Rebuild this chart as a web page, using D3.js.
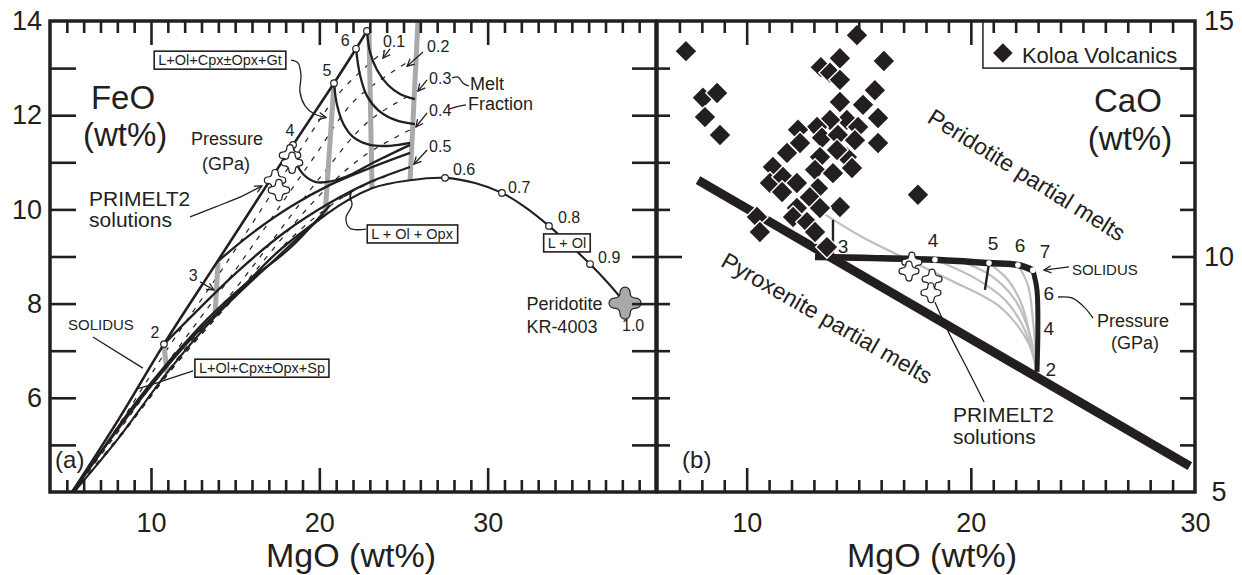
<!DOCTYPE html>
<meta charset="utf-8">
<style>
body{ margin:0; background:#fff; }
svg text{ font-family:"Liberation Sans", Arial, Helvetica, sans-serif; fill:#231f20; }
.frame{ fill:none; stroke:#231f20; stroke-width:3.5; }
.tk line{ stroke:#231f20; stroke-width:2.6; }
.tk .domain{ display:none; }
.lbl text{ fill:#231f20; font-size:27px; font-family:"Liberation Sans", Arial, sans-serif; }
.lbl .domain, .lbl line{ display:none; }
.curve{ fill:none; stroke:#231f20; }
.thin{ fill:none; stroke:#231f20; stroke-width:1.3; }
.dash{ fill:none; stroke:#231f20; stroke-width:1.2; stroke-dasharray:5,7; }
.band{ fill:none; stroke:#a7a9ac; stroke-width:5; }
.grey{ fill:none; stroke:#bcbec0; stroke-width:2.2; }
</style>
<svg width="1242" height="575"></svg>
<script src="https://cdn.jsdelivr.net/npm/d3@7"></script>
<script>

// ---- panel (a): FeO vs MgO ----
var xTickLabelsA = [10, 20, 30];
var yTickLabelsA = [6, 8, 10, 12, 14];

var solidusA = [[5.31,4.0],[8.16,5.59],[10.77,7.14],[13.92,8.88],[18.44,11.37],[20.87,12.68],[22.18,13.41],[22.83,13.79]];

// melting paths leaving the solidus at each pressure
var pathsA = [
  [[22.83,13.79],[23.01,13.34],[23.43,12.96],[24.08,12.64],[24.79,12.45],[25.68,12.34]],
  [[22.18,13.41],[22.42,12.85],[22.83,12.41],[23.49,12.11],[24.50,11.90],[25.68,11.81]],
  [[20.87,12.68],[21.05,12.22],[21.41,11.83],[22.0,11.54],[23.01,11.37],[24.20,11.35],[25.39,11.41]],
  [[18.44,11.37],[18.61,11.01],[19.09,10.73],[19.80,10.58],[20.75,10.60],[21.82,10.73],[23.31,11.01],[25.39,11.37]],
  [[13.92,8.88],[15.88,9.46],[18.26,10.05],[20.63,10.52],[23.01,10.88],[25.39,11.20]],
  [[10.77,7.14],[12.91,7.91],[15.11,8.67],[17.96,9.52],[20.63,10.14],[23.01,10.58],[25.39,10.90]],
  [[5.31,4.0],[7.09,4.89],[8.99,5.85],[11.13,6.80],[13.39,7.69],[15.88,8.50],[18.26,9.18],[20.63,10.09]],
  [[5.37,4.0],[7.56,5.10],[9.82,6.17],[12.32,7.23],[14.99,8.18],[17.54,9.10],[20.34,9.88]]
];

var arcA = [[5.43,4.0],[7.98,5.10],[10.95,6.53],[13.80,7.72],[17.07,8.84],[20.34,9.88],[23.13,10.45],[25.39,10.62],
  [27.47,10.67],[29.25,10.56],[30.85,10.35],[32.22,10.05],[33.64,9.65],[34.89,9.24],[36.08,8.84],[37.27,8.39],[38.16,8.01]];

// melt fraction contours 0.1 - 0.5 (dashed)
var contoursA = [
  [[5.37,4.0],[8.28,5.53],[11.13,7.12],[14.40,8.82],[18.85,11.26],[21.23,12.49],[23.90,13.38]],
  [[5.37,4.0],[8.34,5.42],[11.43,6.97],[14.81,8.61],[19.57,11.05],[22.12,12.32],[25.27,13.13]],
  [[5.37,4.0],[8.40,5.32],[11.60,6.85],[15.29,8.44],[20.16,10.73],[22.89,11.86],[25.62,12.47]],
  [[5.43,4.0],[8.28,5.23],[11.49,6.72],[15.05,8.20],[20.04,10.31],[22.71,11.15],[25.62,11.73]],
  [[5.43,4.0],[8.16,5.17],[11.25,6.61],[14.57,7.97],[18.85,9.56],[21.82,10.35],[25.51,10.92]]
];

// isobars (grey bands)
var isobarsA = [
  [[25.86,14.0],[25.39,10.62]],
  [[22.95,13.79],[23.13,10.45]],
  [[20.87,12.68],[20.34,9.88]],
  [[13.98,8.88],[13.80,7.72]],
  [[10.77,7.12],[10.95,6.53]]
];

var pressA = ["2", "4", "5", "6", "7"];
var pressMgOA = [10.77, 18.44, 20.87, 22.18, 22.83];
var pressFeOA = [7.14, 11.37, 12.68, 13.41, 13.79];

var fracA = ["0.6", "0.7", "0.8", "0.9"];
var fracMgOA = [27.47, 30.85, 33.64, 36.08];
var fracFeOA = [10.67, 10.35, 9.65, 8.84];

var primeltMgOA = [18.26, 18.38, 17.37, 17.60];
var primeltFeOA = [11.15, 10.99, 10.62, 10.41];

var peridotite = [38.16, 8.01];

// ---- panel (b): CaO vs MgO ----
var xTickLabelsB = [10, 20, 30];
var yTickLabelsB = [5, 10, 15];

var koloaMgO = [7.29,8.05,8.68,8.14,8.81,14.92,14.16,13.31,13.72,14.16,16.12,14.16,15.72,15.19,15.86,14.47,13.72,13.14,12.29,14.97,
  13.36,14.07,14.83,15.86,12.38,11.80,13.27,14.47,14.03,11.17,13.05,13.85,14.70,11.04,11.62,12.24,11.58,13.18,12.82,14.16,
  12.24,13.27,12.07,12.69,10.46,10.59,13.05,13.58,17.64];
var koloaCaO = [14.36,13.37,13.47,12.96,12.58,14.70,14.21,14.02,13.90,13.75,14.15,13.28,13.53,13.22,12.94,12.90,12.90,12.75,12.69,12.75,
  12.52,12.58,12.47,12.41,12.41,12.20,12.11,12.11,12.26,11.90,11.84,11.77,11.88,11.56,11.69,11.56,11.37,11.45,11.26,11.05,
  11.03,11.03,10.84,10.73,10.84,10.52,10.52,10.20,11.31];

var pyroxeniteB = [[7.83,11.62],[29.77,5.55]];
var solidusB = [[13.05,9.99],[18.40,9.93],[20.81,9.86],[22.10,9.82],[22.77,9.71]];
var solidusDepthB = [[22.77,9.71],[22.95,9.29],[22.99,8.44],[22.95,7.55]];
var pressB = ["4", "5", "6", "7"];
var greyB = [
  [[13.40,10.92],[15.05,10.44],[16.84,10.01],[19.07,9.50],[21.30,8.93],[22.50,8.23],[22.95,7.63]],
  [[18.40,9.93],[20.18,9.54],[21.52,9.08],[22.41,8.44],[22.90,7.63]],
  [[19.51,9.90],[20.85,9.61],[21.97,9.08],[22.64,8.33],[22.92,7.63]],
  [[20.81,9.86],[21.66,9.50],[22.28,8.97],[22.68,8.23],[22.93,7.63]],
  [[22.10,9.82],[22.55,9.39],[22.77,8.65],[22.94,7.63]]
];
var ticksB = [[[13.85,10.78],[13.85,9.99]], [[20.81,9.86],[20.63,9.29]]];
var primeltMgOB = [17.37, 17.24, 18.27, 18.22];
var primeltCaOB = [9.88, 9.69, 9.52, 9.23];

var xa = d3.scaleLinear().domain([4, 40]).range([50, 656]),
    ya = d3.scaleLinear().domain([4, 14]).range([492, 21]),
    xb = d3.scaleLinear().domain([6, 30]).range([657, 1195]),
    yb = d3.scaleLinear().domain([5, 15]).range([492, 21]);

var svg = d3.select("svg");
var ink = "#231f20";

function liner(sx, sy) {
  return d3.line().x(function(d) { return sx(d[0]); }).y(function(d) { return sy(d[1]); })
    .curve(d3.curveCatmullRom.alpha(0.5));
}
var la = liner(xa, ya), lb = liner(xb, yb);

function quat(d, a) {
  return "M" + (-a) + "," + (-d) + "A" + a + "," + a + " 0 0 1 " + a + "," + (-d) +
    "Q" + a + "," + (-a) + " " + d + "," + (-a) + "A" + a + "," + a + " 0 0 1 " + d + "," + a +
    "Q" + a + "," + a + " " + a + "," + d + "A" + a + "," + a + " 0 0 1 " + (-a) + "," + d +
    "Q" + (-a) + "," + a + " " + (-d) + "," + a + "A" + a + "," + a + " 0 0 1 " + (-d) + "," + (-a) +
    "Q" + (-a) + "," + (-a) + " " + (-a) + "," + (-d) + "Z";
}

function txt(g, x, y, s, size, anchor) {
  return g.append("text").attr("x", x).attr("y", y).attr("font-size", size)
    .attr("text-anchor", anchor || "start").text(s);
}

function boxLabel(g, x, y, s) {
  var t = txt(g, x, y, s, 14.5, "middle").attr("dy", "0.35em");
  var b = t.node().getBBox();
  g.insert("rect", function() { return t.node(); })
    .attr("x", b.x - 4).attr("y", b.y - 1).attr("width", b.width + 8).attr("height", b.height + 2)
    .attr("fill", "#fff").attr("stroke", ink).attr("stroke-width", 1.6);
}

function arrow(g, pts, sl) {
  return g.append("path").attr("class", "thin").attr("d", sl(pts)).attr("marker-end", "url(#arr)");
}

svg.append("defs").append("marker").attr("id", "arr").attr("viewBox", "0 -5 10 10")
    .attr("refX", 9).attr("refY", 0).attr("markerWidth", 9).attr("markerHeight", 9)
    .attr("markerUnits", "userSpaceOnUse").attr("orient", "auto")
  .append("path").attr("d", "M1,-4L9,0L1,4").attr("fill", "none").attr("stroke", ink).attr("stroke-width", 1.4);

// ================= panel (a) =================
var ga = svg.append("g");

ga.selectAll(".dash").data(contoursA).enter().append("path").attr("class", "dash").attr("d", la);
ga.selectAll(".band").data(isobarsA).enter().append("path").attr("class", "band").attr("d", la);
ga.selectAll(".mp").data(pathsA).enter().append("path").attr("class", "curve mp").style("stroke-width", 2.3).attr("d", la);
ga.append("path").attr("class", "curve").style("stroke-width", 2.1).attr("d", la(arcA));
ga.append("path").attr("class", "curve").style("stroke-width", 2.6).attr("d", la(solidusA));

ga.selectAll(".pc").data(pressA).enter().append("circle").attr("class", "pc")
    .attr("cx", function(d, i) { return xa(pressMgOA[i]); })
    .attr("cy", function(d, i) { return ya(pressFeOA[i]); })
    .attr("r", 3.3).attr("fill", "#fff").attr("stroke", ink).attr("stroke-width", 1.2);

ga.selectAll(".fc").data(fracA).enter().append("circle").attr("class", "fc")
    .attr("cx", function(d, i) { return xa(fracMgOA[i]); })
    .attr("cy", function(d, i) { return ya(fracFeOA[i]); })
    .attr("r", 3.3).attr("fill", "#fff").attr("stroke", ink).attr("stroke-width", 1.2);

ga.selectAll(".pq").data(primeltMgOA).enter().append("path").attr("class", "pq")
    .attr("d", quat(7.5, 3.2))
    .attr("transform", function(d, i) { return "translate(" + xa(d) + "," + ya(primeltFeOA[i]) + ")"; })
    .attr("fill", "#fff").attr("stroke", ink).attr("stroke-width", 1.2);

ga.append("path").attr("d", quat(11, 5))
    .attr("transform", "translate(" + xa(peridotite[0]) + "," + ya(peridotite[1]) + ")")
    .attr("fill", "#a7a9ac").attr("stroke", ink).attr("stroke-width", 1.2);

// annotations (a)
txt(ga, xa(8.34), ya(12.13), "FeO", 33, "middle");
txt(ga, xa(8.46), ya(11.35), "(wt%)", 33, "middle");
txt(ga, xa(14.52), ya(11.37), "Pressure", 18, "middle");
txt(ga, xa(14.46), ya(10.84), "(GPa)", 18, "middle");
txt(ga, xa(6.32), ya(10.07), "PRIMELT2", 21);
txt(ga, xa(6.32), ya(9.63), "solutions", 21);
txt(ga, xa(5.07), ya(7.44), "SOLIDUS", 15);
txt(ga, xa(4.3), ya(4.51), "(a)", 24);
txt(ga, xa(10.24), ya(7.27), "2", 16, "middle");
txt(ga, xa(12.5), ya(8.48), "3", 16, "middle");
txt(ga, xa(18.26), ya(11.56), "4", 16, "middle");
txt(ga, xa(20.46), ya(12.83), "5", 16, "middle");
txt(ga, xa(21.53), ya(13.47), "6", 16, "middle");
txt(ga, xa(27.94), ya(10.73), "0.6", 16);
txt(ga, xa(31.21), ya(10.35), "0.7", 16);
txt(ga, xa(34.18), ya(9.71), "0.8", 16);
txt(ga, xa(36.56), ya(8.86), "0.9", 16);
txt(ga, xa(37.98), ya(7.42), "1.0", 16);
txt(ga, xa(23.78), ya(13.45), "0.1", 16);
txt(ga, xa(26.4), ya(13.34), "0.2", 16);
txt(ga, xa(26.52), ya(12.66), "0.3", 16);
txt(ga, xa(26.52), ya(11.98), "0.4", 16);
txt(ga, xa(26.52), ya(11.22), "0.5", 16);
txt(ga, xa(28.95), ya(12.53), "Melt", 18);
txt(ga, xa(28.83), ya(12.12), "Fraction", 18);
txt(ga, xa(32.3), ya(7.86), "Peridotite", 18);
txt(ga, xa(32.3), ya(7.38), "KR-4003", 18);

arrow(ga, [[12.91,8.46],[13.74,8.29]], la);
arrow(ga, [[24.2,13.41],[23.78,13.21]], la);
arrow(ga, [[26.16,13.34],[25.21,13.04]], la);
arrow(ga, [[26.4,12.75],[25.86,12.51]], la);
arrow(ga, [[26.4,12.05],[25.74,11.75]], la);
arrow(ga, [[26.4,11.26],[25.62,10.96]], la);
arrow(ga, [[12.32,9.84],[13.8,10.05],[15.29,10.26],[16.59,10.5]], la);
arrow(ga, [[18.32,13.17],[18.73,13.11],[18.91,12.85],[18.85,12.49],[19.15,12.2],[19.68,12.03],[20.4,11.95]], la);
arrow(ga, [[22.77,9.58],[21.82,9.6],[21.58,9.82],[21.94,10.09],[21.82,10.3],[21.88,10.35]], la);
ga.append("path").attr("class", "thin").attr("d", la([[27.88,12.79],[28.24,12.81],[28.54,12.68],[28.89,12.62]]));
ga.append("path").attr("class", "thin").attr("d", la([[27.7,12.13],[28.18,12.18],[28.71,12.22]]));
ga.append("path").attr("class", "thin").attr("d", la([[6.55,7.29],[9.52,6.63]]));
ga.append("path").attr("class", "thin").attr("d", la([[12.5,6.57],[10.54,6.34],[9.17,6.19]]));

boxLabel(ga, xa(14.1), ya(13.17), "L+Ol+Cpx\u00B1Opx+Gt");
boxLabel(ga, xa(16.59), ya(6.63), "L+Ol+Cpx\u00B1Opx+Sp");
boxLabel(ga, xa(25.51), ya(9.48), "L + Ol + Opx");
boxLabel(ga, xa(34.71), ya(9.29), "L + Ol");

// ================= panel (b) =================
var gb = svg.append("g");

gb.selectAll(".grey").data(greyB).enter().append("path").attr("class", "grey").attr("d", lb);
gb.append("path").attr("class", "curve").style("stroke-width", 9).attr("d", lb(pyroxeniteB));
gb.append("path").attr("class", "curve").style("stroke-width", 6.5).attr("d", lb(solidusB));
gb.append("path").attr("class", "curve").style("stroke-width", 5).attr("d", lb(solidusDepthB));
gb.selectAll(".tb").data(ticksB).enter().append("path").attr("class", "curve tb").style("stroke-width", 2.4).attr("d", lb);

gb.selectAll(".sd").data(pressB).enter().append("circle").attr("class", "sd")
    .attr("cx", function(d, i) { return xb(solidusB[i + 1][0]); })
    .attr("cy", function(d, i) { return yb(solidusB[i + 1][1]); })
    .attr("r", 2.8).attr("fill", "#fff");

gb.selectAll(".pq").data(primeltMgOB).enter().append("path").attr("class", "pq")
    .attr("d", quat(7, 3))
    .attr("transform", function(d, i) { return "translate(" + xb(d) + "," + yb(primeltCaOB[i]) + ")"; })
    .attr("fill", "#fff").attr("stroke", ink).attr("stroke-width", 1.2);

gb.selectAll(".kv").data(koloaMgO).enter().append("path").attr("class", "kv")
    .attr("d", d3.symbol().type(d3.symbolSquare).size(250))
    .attr("transform", function(d, i) { return "translate(" + xb(d) + "," + yb(koloaCaO[i]) + ") rotate(45)"; })
    .attr("fill", ink).attr("stroke", "#fff").attr("stroke-width", 1.4);

// legend
gb.append("rect").attr("x", xb(20.54)).attr("y", yb(15)).attr("width", xb(30) - xb(20.54))
    .attr("height", yb(14) - yb(15)).attr("fill", "#fff").attr("stroke", ink).attr("stroke-width", 1.5);
gb.append("path").attr("d", d3.symbol().type(d3.symbolSquare).size(190))
    .attr("transform", "translate(" + xb(21.43) + "," + yb(14.32) + ") rotate(45)").attr("fill", ink);
txt(gb, xb(22.28), yb(14.11), "Koloa Volcanics", 22);

// annotations (b)
txt(gb, xb(27.01), yb(13.07), "CaO", 33, "middle");
txt(gb, xb(27.1), yb(12.26), "(wt%)", 33, "middle");
txt(gb, xb(7.12), yb(5.51), "(b)", 24);
txt(gb, xb(14.3), yb(10.07), "3", 19, "middle");
txt(gb, xb(18.31), yb(10.2), "4", 19, "middle");
txt(gb, xb(20.99), yb(10.14), "5", 19, "middle");
txt(gb, xb(22.19), yb(10.1), "6", 19, "middle");
txt(gb, xb(23.31), yb(9.97), "7", 19, "middle");
txt(gb, xb(23.48), yb(9.08), "6", 19, "middle");
txt(gb, xb(23.48), yb(8.33), "4", 19, "middle");
txt(gb, xb(23.57), yb(7.46), "2", 19, "middle");
txt(gb, xb(24.51), yb(9.61), "SOLIDUS", 15);
txt(gb, xb(27.23), yb(8.5), "Pressure", 18, "middle");
txt(gb, xb(27.32), yb(8.04), "(GPa)", 18, "middle");
txt(gb, xb(19.2), yb(6.48), "PRIMELT2", 21);
txt(gb, xb(19.2), yb(6.02), "solutions", 21);
arrow(gb, [[24.38,9.78],[23.26,9.71]], lb);
gb.append("path").attr("class", "thin").attr("d", lb([[23.89,9.14],[24.51,9.12],[25.09,8.91],[25.45,8.69]]));
gb.append("path").attr("class", "thin").attr("d", lb([[18.4,9.03],[19.07,8.33],[19.87,7.59],[20.59,6.91]]));

txt(gb, xb(22.5), yb(11.73), "Peridotite partial melts", 23, "middle")
    .attr("dy", "0.35em").attr("transform", "rotate(32," + xb(22.5) + "," + yb(11.73) + ")");
txt(gb, xb(13.58), yb(8.69), "Pyroxenite partial melts", 23, "middle")
    .attr("dy", "0.35em").attr("transform", "rotate(30," + xb(13.58) + "," + yb(8.69) + ")");

// ================= axes =================
function ticks(g, axis, tr, vals, len) {
  g.append("g").attr("class", "tk").attr("transform", tr)
    .call(axis.tickValues(vals).tickSize(-len).tickFormat(""));
}
var minorXA = d3.range(5, 40).filter(function(v) { return v % 10; }),
    minorXB = d3.range(7, 30).filter(function(v) { return v % 10; }),
    minorYB = d3.range(6, 15).filter(function(v) { return v !== 10; });

ticks(svg, d3.axisBottom(xa), "translate(0,492)", minorXA, 12);
ticks(svg, d3.axisBottom(xa), "translate(0,492)", xTickLabelsA, 24);
ticks(svg, d3.axisTop(xa), "translate(0,21)", minorXA, 12);
ticks(svg, d3.axisTop(xa), "translate(0,21)", xTickLabelsA, 24);
ticks(svg, d3.axisLeft(ya), "translate(50,0)", d3.range(5, 14), 26);
ticks(svg, d3.axisRight(ya), "translate(656,0)", d3.range(5, 14), 24);

ticks(svg, d3.axisBottom(xb), "translate(0,492)", minorXB, 12);
ticks(svg, d3.axisBottom(xb), "translate(0,492)", [10, 20], 24);
ticks(svg, d3.axisTop(xb), "translate(0,21)", minorXB, 12);
ticks(svg, d3.axisTop(xb), "translate(0,21)", [10, 20], 24);
ticks(svg, d3.axisLeft(yb), "translate(657,0)", minorYB, 13);
ticks(svg, d3.axisLeft(yb), "translate(657,0)", [10], 25);
ticks(svg, d3.axisRight(yb), "translate(1195,0)", minorYB, 15);
ticks(svg, d3.axisRight(yb), "translate(1195,0)", [10], 23);

svg.append("g").attr("class", "lbl").attr("transform", "translate(0,492)")
  .call(d3.axisBottom(xa).tickValues(xTickLabelsA).tickSize(0).tickPadding(21));
svg.append("g").attr("class", "lbl").attr("transform", "translate(0,492)")
  .call(d3.axisBottom(xb).tickValues(xTickLabelsB).tickSize(0).tickPadding(21));
svg.append("g").attr("class", "lbl").attr("transform", "translate(50,0)")
  .call(d3.axisLeft(ya).tickValues(yTickLabelsA).tickSize(0).tickPadding(8));
svg.append("g").attr("class", "lbl").attr("transform", "translate(1195,0)")
  .call(d3.axisRight(yb).tickValues(yTickLabelsB).tickSize(0))
  .selectAll("text").attr("x", 24).attr("text-anchor", "middle");

svg.selectAll(".lbl text").attr("font-size", 27);

svg.append("rect").attr("class", "frame").attr("x", 50).attr("y", 21)
    .attr("width", xa(40) - xa(4)).attr("height", ya(4) - ya(14));
svg.append("rect").attr("class", "frame").attr("x", xb(6)).attr("y", 21)
    .attr("width", xb(30) - xb(6)).attr("height", yb(5) - yb(15));

txt(svg, 351, 567, "MgO (wt%)", 34, "middle");
txt(svg, 932, 567, "MgO (wt%)", 34, "middle");

</script>
